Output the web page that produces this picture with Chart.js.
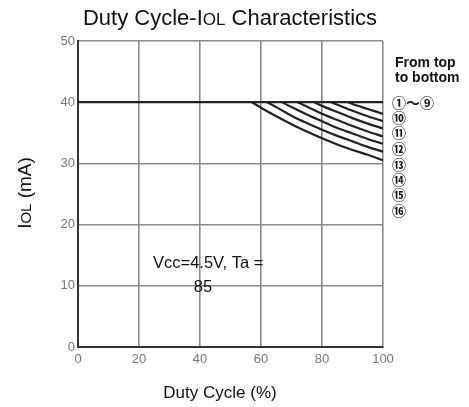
<!DOCTYPE html>
<html>
<head>
<meta charset="utf-8">
<script src="https://cdn.jsdelivr.net/npm/chart.js@4/dist/chart.umd.min.js"></script>
<style>
  body { margin: 0; background: #fff; }
  #wrap { width: 469px; height: 407px; }
</style>
</head>
<body>
<div id="wrap"><canvas id="grafico" width="469" height="407"></canvas></div>
<script>
// Ejes
const ticksX = [0, 20, 40, 60, 80, 100];
const ticksY = [0, 10, 20, 30, 40, 50];

// Curvas ①~⑨ (plana) y ⑩..⑯
const planaX = [0, 100];
const planaY = [40, 40];
const c10x = [88.5, 90, 95, 100];
const c10y = [40, 39.7, 38.9, 38.1];
const c11x = [83, 85, 90, 95, 100];
const c11y = [40, 39.6, 38.6, 37.7, 36.9];
const c12x = [77.5, 80, 85, 90, 95, 100];
const c12y = [40, 39.4, 38.4, 37.4, 36.5, 35.7];
const c13x = [72, 75, 80, 85, 90, 95, 100];
const c13y = [40, 39.3, 38.1, 37.1, 36.1, 35.2, 34.4];
const c14x = [67, 70, 75, 80, 85, 90, 95, 100];
const c14y = [40, 39.2, 38.0, 36.9, 35.8, 34.9, 34.0, 33.2];
const c15x = [62, 65, 70, 75, 80, 85, 90, 95, 100];
const c15y = [40, 39.2, 37.8, 36.6, 35.5, 34.5, 33.6, 32.7, 31.9];
const c16x = [57, 60, 65, 70, 75, 80, 85, 90, 95, 100];
const c16y = [40, 39.1, 37.7, 36.4, 35.2, 34.1, 33.1, 32.2, 31.4, 30.5];

// Textos
const titulo = ['Duty Cycle-I', 'OL', ' Characteristics'];
const tituloY = ['I', 'OL', ' (mA)'];
const tituloX = 'Duty Cycle (%)';
const nota = ['Vcc=4.5V, Ta =', '85'];
const leyendaTitulo = ['From top', 'to bottom'];
const leyenda = ['①～⑨', '⑩', '⑪', '⑫', '⑬', '⑭', '⑮', '⑯'];

function puntos(xs, ys) {
    return xs.map((x, i) => ({x: x, y: ys[i]}));
}

function serie(xs, ys) {
    return {
        data: puntos(xs, ys),
        borderColor: '#222',
        borderWidth: 2.2,
        pointRadius: 0,
        fill: false,
        cubicInterpolationMode: 'monotone'
    };
}

// Dibuja un texto con una parte más pequeña (el "OL" de IOL)
function textoMixto(ctx, partes, tam, tamChico) {
    const fuentes = partes.map((p, i) => (i === 1 ? tamChico : tam) + 'px "Liberation Sans", Arial, sans-serif');
    let ancho = 0;
    partes.forEach((p, i) => { ctx.font = fuentes[i]; ancho += ctx.measureText(p).width; });
    let x = -ancho / 2;
    partes.forEach((p, i) => {
        ctx.font = fuentes[i];
        ctx.fillText(p, x, 0);
        x += ctx.measureText(p).width;
    });
}

const textos = {
    id: 'textos',
    afterDraw(chart) {
        const ctx = chart.ctx;
        ctx.save();
        ctx.fillStyle = '#111';
        ctx.textAlign = 'left';
        ctx.textBaseline = 'alphabetic';

        // título
        ctx.save();
        ctx.translate(230, 25);
        textoMixto(ctx, titulo, 22, 17);
        ctx.restore();

        // título eje Y
        ctx.save();
        ctx.translate(31, 193);
        ctx.rotate(-Math.PI / 2);
        textoMixto(ctx, tituloY, 19, 15);
        ctx.restore();

        // título eje X
        ctx.font = '17px "Liberation Sans", Arial, sans-serif';
        ctx.textAlign = 'center';
        ctx.fillText(tituloX, 220, 398);

        // nota
        ctx.font = '16.5px "Liberation Sans", Arial, sans-serif';
        ctx.textAlign = 'left';
        ctx.fillText(nota[0], 153, 268);
        ctx.textAlign = 'center';
        ctx.fillText(nota[1], 203, 292);

        // leyenda
        ctx.textAlign = 'left';
        ctx.font = 'bold 14px "Liberation Sans", Arial, sans-serif';
        ctx.fillText(leyendaTitulo[0], 395, 67);
        ctx.fillText(leyendaTitulo[1], 395, 82);
        ctx.font = 'bold 14px "Noto Sans CJK JP", sans-serif';
        const ys = [108, 123, 138, 154, 170, 185, 200, 216];
        leyenda.forEach((t, i) => ctx.fillText(t, 392, ys[i]));
        ctx.restore();
    }
};

const ctx = document.getElementById('grafico').getContext('2d');
new Chart(ctx, {
    type: 'line',
    data: {
        datasets: [
            serie(planaX, planaY),
            serie(c10x, c10y),
            serie(c11x, c11y),
            serie(c12x, c12y),
            serie(c13x, c13y),
            serie(c14x, c14y),
            serie(c15x, c15y),
            serie(c16x, c16y)
        ]
    },
    options: {
        responsive: false,
        animation: false,
        layout: { padding: { top: 41, right: 86, left: 0, bottom: 0 } },
        plugins: {
            legend: { display: false },
            tooltip: { enabled: false },
            title: { display: false }
        },
        scales: {
            x: {
                type: 'linear',
                min: 0,
                max: 100,
                afterBuildTicks: s => { s.ticks = ticksX.map(v => ({value: v})); },
                afterFit: s => { s.height = 60; },
                grid: { color: '#8a8a8a', lineWidth: 1.6, drawTicks: false },
                border: { color: '#333', width: 2 },
                ticks: {
                    padding: 5,
                    color: '#777',
                    font: { family: '"Liberation Sans", Arial, sans-serif', size: 13 }
                }
            },
            y: {
                min: 0,
                max: 50,
                afterBuildTicks: s => { s.ticks = ticksY.map(v => ({value: v})); },
                afterFit: s => { s.width = 78; },
                grid: { color: '#8a8a8a', lineWidth: 1.6, drawTicks: false },
                border: { color: '#333', width: 2 },
                ticks: {
                    padding: 3,
                    color: '#777',
                    font: { family: '"Liberation Sans", Arial, sans-serif', size: 13 }
                }
            }
        }
    },
    plugins: [textos]
});
</script>
</body>
</html>
